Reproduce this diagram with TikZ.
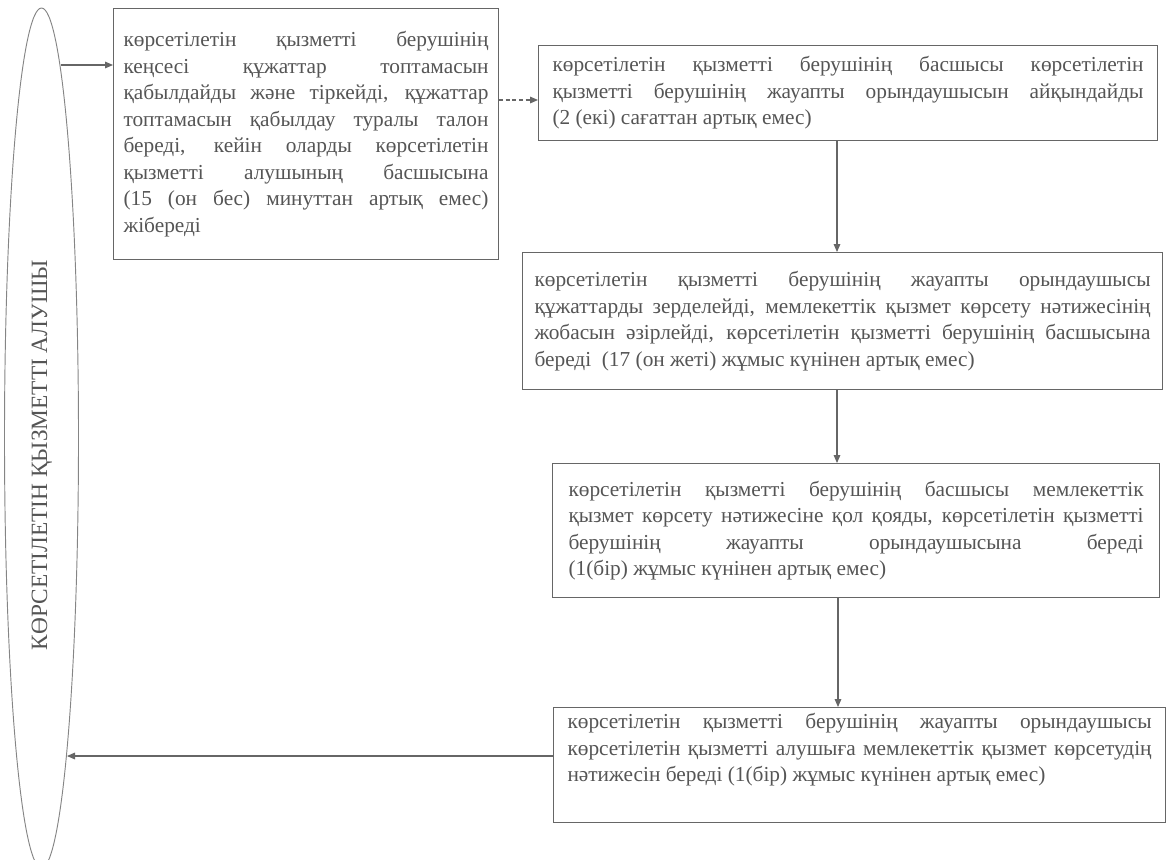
\documentclass[tikz,border=0pt]{standalone}
\usepackage{fontspec}
\setmainfont{Liberation Serif}
\usetikzlibrary{shapes.geometric,arrows.meta}
\definecolor{inkgray}{HTML}{555555}
\definecolor{framegray}{HTML}{666666}
\tolerance=10000
\hbadness=10000
\tikzset{
	every node/.style = {
		text=inkgray,
		font=\fontsize{16}{19.9}\selectfont
	},
	stage/.style = {
		shape=rectangle,
		draw=framegray,
		line width=0.8pt,
		anchor=north west,
		align=justify,
		inner ysep=4pt
	},
	recipient/.style = {
		shape=ellipse,
		draw=framegray!80,
		line width=0.7pt,
		minimum width=55.5pt,
		minimum height=645pt,
		inner sep=0pt
	},
	flow/.style = {
		draw=framegray,
		line width=0.8pt,
		-{Triangle[length=6pt,width=5pt]}
	}
}

\begin{document}
\begin{tikzpicture}[x=0.75pt, y=-0.75pt]
	\useasboundingbox (0,0) rectangle (1167,860);
	\clip (0,0) rectangle (1167,860);

	\node[recipient] (recv) at (41.5,438) {};
	\node[rotate=90, font=\fontsize{17.5}{20}\selectfont] (recvlabel) at (42,455) {КӨРСЕТІЛЕТІН ҚЫЗМЕТТІ АЛУШЫ};

	\node[stage, text width=273.75pt, inner xsep=7.5pt, minimum height=188.25pt] (box1) at (113,8) {көрсетілетін қызметті берушінің\linebreak
		кеңсесі құжаттар топтамасын\linebreak
		қабылдайды және тіркейді, құжаттар\linebreak
		топтамасын қабылдау туралы талон\linebreak
		береді, кейін оларды көрсетілетін\linebreak
		қызметті алушының басшысына\linebreak
		(15 (он бес) минуттан артық емес)\linebreak
		жібереді};

	\node[stage, text width=443.25pt, inner xsep=10.5pt, minimum height=71.25pt] (box2) at (538,45) {көрсетілетін қызметті берушінің басшысы көрсетілетін\linebreak
		қызметті берушінің жауапты орындаушысын айқындайды\linebreak
		(2 (екі) сағаттан артық емес)};

	\node[stage, text width=462pt, inner xsep=9pt, minimum height=102.75pt] (box3) at (522,252) {көрсетілетін қызметті берушінің жауапты орындаушысы\linebreak
		құжаттарды зерделейді, мемлекеттік қызмет көрсету нәтижесінің\linebreak
		жобасын әзірлейді, көрсетілетін қызметті берушінің басшысына\linebreak
		береді~ (17 (он жеті) жұмыс күнінен артық емес)};

	\node[stage, text width=431.25pt, inner xsep=12pt, minimum height=100.5pt] (box4) at (552,463) {көрсетілетін қызметті берушінің басшысы мемлекеттік\linebreak
		қызмет көрсету нәтижесіне қол қояды, көрсетілетін қызметті\linebreak
		берушінің жауапты орындаушысына береді\linebreak
		(1(бір) жұмыс күнінен артық емес)};

	\node[stage, text width=438pt, inner xsep=10.5pt, minimum height=86.25pt] (box5) at (553,707) {көрсетілетін қызметті берушінің жауапты орындаушысы\linebreak
		көрсетілетін қызметті алушыға мемлекеттік қызмет көрсетудің\linebreak
		нәтижесін береді (1(бір) жұмыс күнінен артық емес)\par\rule{0pt}{22pt}};

	% connectors
	\coordinate (recvin) at (61,65);
	\coordinate (recvout) at (67,756);
	\draw[flow] (recvin) -- (recvin -| box1.west);
	\draw[flow, densely dashed] (box1.east |- 0,100) -- (box2.west |- 0,100);
	\draw[flow] (box2.south -| 837,0) -- (box3.north -| 837,0);
	\draw[flow] (box3.south -| 837,0) -- (box4.north -| 837,0);
	\draw[flow] (box4.south -| 838,0) -- (box5.north -| 838,0);
	\draw[flow] (box5.west |- recvout) -- (recvout);
\end{tikzpicture}
\end{document}
